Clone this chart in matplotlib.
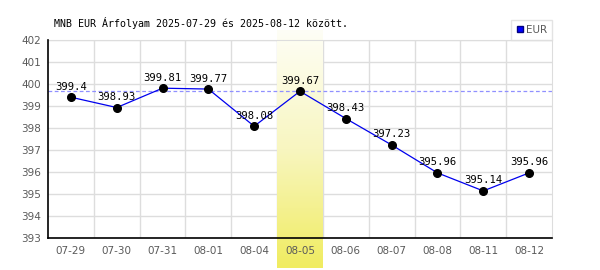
"""MNB EUR exchange rate chart, 2025-07-29 .. 2025-08-12."""
import numpy as np
import matplotlib
matplotlib.use("Agg")
import matplotlib.pyplot as plt
from matplotlib.lines import Line2D

dates = ["07-29", "07-30", "07-31", "08-01", "08-04", "08-05",
         "08-06", "08-07", "08-08", "08-11", "08-12"]
rates = [399.4, 398.93, 399.81, 399.77, 398.08, 399.67,
         398.43, 397.23, 395.96, 395.14, 395.96]
labels = ["399.4", "398.93", "399.81", "399.77", "398.08", "399.67",
          "398.43", "397.23", "395.96", "395.14", "395.96"]
highlight = "08-05"
yticks = list(range(393, 403))
title = "MNB EUR Árfolyam 2025-07-29 és 2025-08-12 között."

MONO = "DejaVu Sans Mono"
GRID = "#dddddd"
TICK = "#5a5a5a"

fig = plt.figure(figsize=(6, 2.7), dpi=100)
ax = fig.add_axes([48 / 600, 1 - 238 / 270, 504 / 600, 198 / 270])

x = np.arange(len(dates))
ymin, ymax = yticks[0], yticks[-1]

# grid (drawn by hand so the highlight can sit on top of it)
for yv in yticks:
    ax.axhline(yv, color=GRID, lw=1, zorder=0.5)
for xv in x[:-1] + 0.5:
    ax.axvline(xv, color=GRID, lw=1, zorder=0.5)

# highlighted day column with vertical gradient, spilling outside axes
hi = dates.index(highlight)
grad = np.linspace(0, 1, 256).reshape(-1, 1)
cmap = matplotlib.colors.LinearSegmentedColormap.from_list(
    "hl", ["#fefef6", "#f8f6c0", "#f0ec60"])
upp = 198 / (ymax - ymin)  # pixels per unit
ax.imshow(grad, cmap=cmap, aspect="auto", origin="upper",
          extent=(hi - 0.5, hi + 0.5, ymin - 30 / upp, ymax + 10 / upp),
          zorder=1, clip_on=False)

# reference line at highlighted value
ax.axhline(rates[hi], color="#9090ff", lw=0.9, ls=(0, (3, 2)), zorder=1.5)

ax.plot(x, rates, color="#0000ee", lw=0.9, zorder=3)
ax.plot(x, rates, "o", color="black", ms=5.5, zorder=4)
for xi, yi, lab in zip(x, rates, labels):
    ax.annotate(lab, (xi, yi), xytext=(0, 4), textcoords="offset points",
                ha="center", va="bottom", fontsize=7.6, family=MONO,
                color="black", zorder=5)

ax.set_xlim(-0.5, len(dates) - 0.5)
ax.set_ylim(ymin, ymax)
ax.set_xticks(x)
ax.set_xticklabels(dates)
ax.set_yticks(yticks)
ax.tick_params(length=0, labelsize=7.5, colors=TICK, pad=5)
ax.tick_params(axis="x", pad=6)
for s in ("top", "right"):
    ax.spines[s].set_color(GRID)
for s in ("left", "bottom"):
    ax.spines[s].set_color("black")
    ax.spines[s].set_linewidth(1.2)
    ax.spines[s].set_zorder(2.6)

leg = ax.legend(handles=[Line2D([], [], marker="s", ls="", color="#0000ff",
                                markeredgecolor="#000080", ms=5)],
                labels=["EUR"], loc="lower right",
                bbox_to_anchor=(1.0, 1.0), borderaxespad=0.0,
                fancybox=False, edgecolor=GRID, fontsize=7.5,
                handletextpad=0.1, borderpad=0.5, handlelength=0.8)
for t in leg.get_texts():
    t.set_color(TICK)

fig.text(54 / 600, 1 - 23 / 270, title, family=MONO, fontsize=7.2,
         va="center", ha="left")

fig.savefig("out.png", dpi=100, facecolor="white")
